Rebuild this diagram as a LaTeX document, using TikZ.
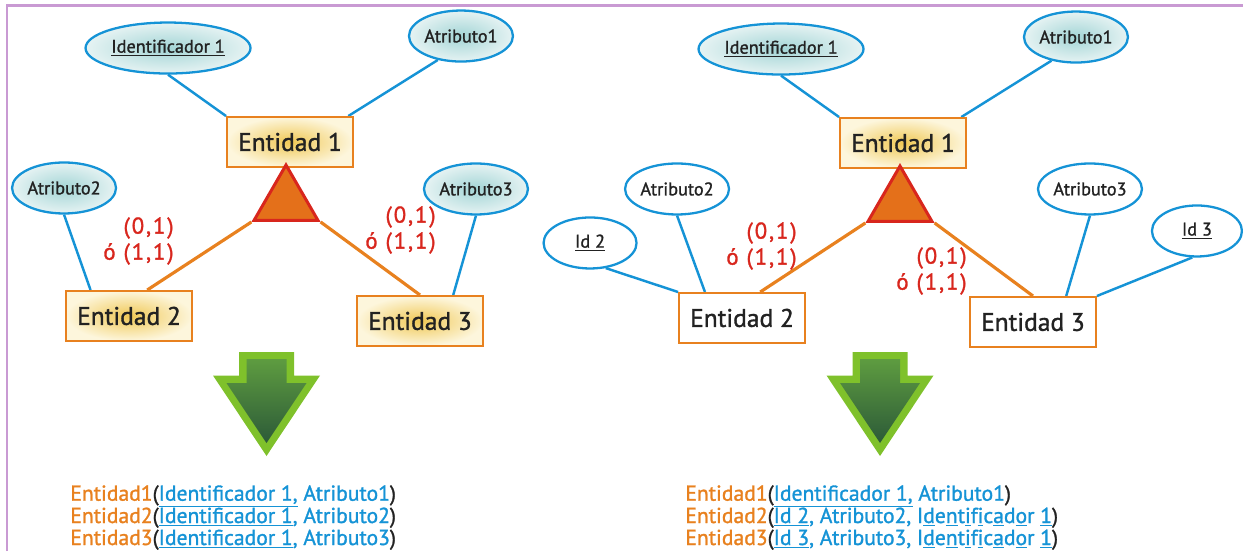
\documentclass[tikz,border=0pt]{standalone}
\usepackage{fontspec}
\setmainfont{PT Sans}[FakeBold=1.3]
\newfontfamily\cardfont{PT Sans}[FakeBold=1.3, LetterSpace=8]
\usepackage{tikz}
\usetikzlibrary{positioning, shapes.geometric, backgrounds}
\usepackage{xcolor}

\definecolor{marco}{HTML}{C99AD3}
\definecolor{azul}{HTML}{1593D6}
\definecolor{naranja}{HTML}{E8811F}
\definecolor{rojo}{HTML}{D8261D}
\definecolor{trifill}{HTML}{E4701A}
\definecolor{oro}{HTML}{F0C855}
\definecolor{crema}{HTML}{FDF6DC}
\definecolor{turq}{HTML}{A3D5D6}
\definecolor{turqclaro}{HTML}{E6F3F3}
\definecolor{verde}{HTML}{7FC12B}
\definecolor{verdeclaro}{HTML}{5E9C40}
\definecolor{verdeosc}{HTML}{2C5A38}
\definecolor{texto}{HTML}{222222}

% flecha verde hacia abajo
\newcommand{\flecha}[1]{%
  \begin{scope}[shift={(#1,352)}]
    \fill[verde] (-27.5,0) -- (27.5,0) -- (27.5,23.5) -- (53.5,23.5) -- (0,104) -- (-53.5,23.5) -- (-27.5,23.5) -- cycle;
    \shade[top color=verdeclaro, bottom color=verdeosc] (-20,7) -- (20,7) -- (20,31) -- (40,31) -- (0,91) -- (-40,31) -- (-20,31) -- cycle;
  \end{scope}}
\newcommand{\ent}[1]{\textcolor{naranja}{#1}}
\newcommand{\atr}[1]{\textcolor{azul}{#1}}
\newcommand{\pare}[1]{\textcolor{texto}{#1}}

\begin{document}
\begin{tikzpicture}[
    x=0.02cm, y=-0.02cm,
    on grid,
    entidad/.style={rectangle, draw=naranja, line width=1.1pt, minimum width=2.52cm, minimum height=1cm, inner sep=0pt, text=texto, font=\fontsize{14.5}{16}\selectfont},
    entoro/.style={entidad, inner color=oro, outer color=crema},
    atrib/.style={ellipse, draw=azul, line width=1.3pt, minimum width=2.08cm, minimum height=1.02cm, inner sep=0pt, text=texto, font=\fontsize{10.4}{12}\selectfont},
    atribtq/.style={atrib, inner color=turq, outer color=turqclaro},
    triang/.style={regular polygon, regular polygon sides=3, minimum size=1.48cm, inner sep=0pt, draw=rojo, fill=trifill, line width=1.7pt},
    card/.style={align=right, inner sep=0pt, text=rojo, font=\cardfont\fontsize{13}{14.8}\selectfont},
    linea/.style={draw=azul, line width=1.4pt},
    rel/.style={draw=naranja, line width=1.8pt},
    tabla/.style={anchor=base west, inner sep=0pt, font=\fontsize{12.3}{13}\selectfont}
]
    \useasboundingbox (0,0) rectangle (1243,551);
    \draw[marco, line width=1.2pt] (7,551) -- (7,5.5) -- (1243,5.5);

    % diagrama izquierdo
    \node[entoro] (e1) at (290,142) {Entidad 1};
    \node[atribtq, minimum width=3.3cm, above left=1.88cm and 2.44cm of e1] (id1) {\underline{Identificador 1}};
    \node[atribtq, above right=2.12cm and 3.42cm of e1] (a1) {Atributo1};
    \node[entoro, below left=3.48cm and 3.22cm of e1] (e2) {Entidad 2};
    \node[entoro, below right=3.58cm and 2.6cm of e1] (e3) {Entidad 3};
    \node[atribtq, above left=2.56cm and 1.3cm of e2] (a2) {Atributo2};
    \node[atribtq, above right=2.64cm and 1.12cm of e3] (a3) {Atributo3};
    \node[triang, below=1.2cm of e1, xshift=-0.08cm] (tri) {};
    \node[card, anchor=east] (c2) at (174,241) {(0,1)\\ó (1,1)};
    \node[card, anchor=east] (c3) at (436,230) {(0,1)\\ó (1,1)};

    % diagrama derecho
    \node[entoro] (e1r) at (903,143) {Entidad 1};
    \node[atribtq, minimum width=3.3cm, above left=1.88cm and 2.44cm of e1r] (id1r) {\underline{Identificador 1}};
    \node[atribtq, above right=2.12cm and 3.46cm of e1r] (a1r) {Atributo1};
    \node[entidad, below left=3.5cm and 3.22cm of e1r] (e2r) {Entidad 2};
    \node[entidad, below right=3.58cm and 2.6cm of e1r] (e3r) {Entidad 3};
    \node[atrib, above left=2.58cm and 1.3cm of e2r] (a2r) {Atributo2};
    \node[atrib, minimum width=1.86cm, above left=1.5cm and 3.04cm of e2r] (id2r) {\underline{Id 2}};
    \node[atrib, above right=2.66cm and 1.14cm of e3r] (a3r) {Atributo3};
    \node[atrib, minimum width=1.8cm, above right=1.82cm and 3.28cm of e3r] (id3r) {\underline{Id 3}};
    \node[triang, below=1.2cm of e1r, xshift=-0.06cm] (trir) {};
    \node[card, anchor=east] (c2r) at (797,246) {(0,1)\\ó (1,1)};
    \node[card, anchor=east] (c3r) at (967,271) {(0,1)\\ó (1,1)};

    % lineas
    \begin{scope}[on background layer]
        \draw[linea] (id1.south) -- (e1.north west);
        \draw[linea] (a1.226) -- (e1.24);
        \draw[linea] (a2.south) -- (e2.146);
        \draw[linea] (a3.south) -- (e3.38);
        \draw[rel] (tri.corner 2) -- (e2.55);
        \draw[rel] (tri.corner 3) -- (e3.north);
        \draw[linea] (id1r.south) -- (e1r.north west);
        \draw[linea] (a1r.224) -- (e1r.24);
        \draw[linea] (id2r.302) -- (e2r.north west);
        \draw[linea] (a2r.south) -- (e2r.145);
        \draw[linea] (a3r.south) -- (e3r.38);
        \draw[linea] (id3r.260) -- (e3r.north east);
        \draw[rel] (trir.corner 2) -- (e2r.55);
        \draw[rel] (trir.corner 3) -- (e3r.north);
    \end{scope}

    % flechas
    \flecha{266.5}
    \flecha{880}

    % tablas
    \node[tabla] (t1) at (70,500.7) {\ent{Entidad1}\pare{(}\atr{\underline{Identificador 1,} Atributo1}\pare{)}};
    \node[tabla] (t2) at (70,523) {\ent{Entidad2}\pare{(}\atr{\underline{Identificador 1}, Atributo2}\pare{)}};
    \node[tabla] (t3) at (70,545) {\ent{Entidad3}\pare{(}\atr{\underline{Identificador 1}, Atributo3}\pare{)}};
    \node[tabla] (t1r) at (685,500.7) {\ent{Entidad1}\pare{(}\atr{\underline{Identificador 1,} Atributo1}\pare{)}};
    \node[tabla] (t2r) at (685,523) {\ent{Entidad2}\pare{(}\atr{\underline{Id 2}, Atributo2, I\underline{d}e\underline{n}t\underline{i}f\underline{i}c\underline{a}d\underline{o}r \underline{1}}\pare{)}};
    \node[tabla] (t3r) at (685,545) {\ent{Entidad3}\pare{(}\atr{\underline{Id 3}, Atributo3, I\underline{d}e\underline{n}t\underline{i}f\underline{i}c\underline{a}d\underline{o}r \underline{1}}\pare{)}};
\end{tikzpicture}
\end{document}
